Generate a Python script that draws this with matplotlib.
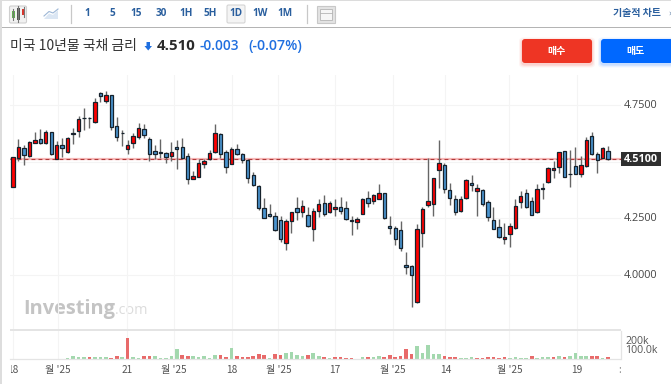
import matplotlib
matplotlib.use("Agg")
import matplotlib.pyplot as plt
from matplotlib.patches import FancyBboxPatch, Rectangle, Polygon
from matplotlib.transforms import Bbox, TransformedBbox

plt.rcParams['font.family'] = ['Noto Sans CJK KR', 'DejaVu Sans']

W, H = 671, 384

# direction of each session: R = up (red), B = down (blue)
direction = ["R","R","B","R","R","B","R","B","R","B","R","R","R","B","B","R","B","R","B","B",
             "B","R","R","R","B","B","B","R","B","R","B","B","B","R","R","R","R","R","B","B",
             "R","B","B","B","B","B","B","B","B","B","R","R","B","R","B","R","R","B","R","R",
             "B","B","B","R","R","B","R","R","B","B","B","B","B","B","R","R","R","R","R","B",
             "B","B","R","R","B","R","B","B","B","B","R","R","R","R","B","B","R","B","R","R",
             "R","B","B","B","R","R","B","B","R","B"]

highs = [4.519,4.599,4.574,4.592,4.632,4.643,4.640,4.632,4.591,4.603,
         4.610,4.647,4.701,4.735,4.696,4.780,4.809,4.812,4.794,4.698,
         4.640,4.596,4.625,4.669,4.665,4.607,4.574,4.599,4.544,4.585,
         4.596,4.603,4.540,4.460,4.512,4.511,4.551,4.665,4.625,4.551,
         4.563,4.578,4.537,4.512,4.456,4.396,4.341,4.313,4.279,4.260,
         4.246,4.279,4.345,4.331,4.299,4.294,4.334,4.353,4.328,4.334,
         4.343,4.328,4.260,4.257,4.340,4.369,4.357,4.400,4.363,4.260,
         4.216,4.238,4.103,4.044,4.225,4.299,4.515,4.427,4.596,4.493,
         4.407,4.352,4.349,4.422,4.441,4.401,4.378,4.331,4.299,4.248,
         4.228,4.231,4.334,4.372,4.379,4.345,4.400,4.404,4.478,4.503,
         4.544,4.548,4.551,4.566,4.525,4.610,4.632,4.544,4.566,4.569]
body_tops = [4.519,4.566,4.559,4.588,4.594,4.600,4.632,4.632,4.574,4.574,
             4.606,4.625,4.687,4.694,4.693,4.765,4.803,4.794,4.793,4.656,
             4.628,4.574,4.612,4.647,4.643,4.601,4.546,4.541,4.537,4.541,
             4.566,4.566,4.526,4.437,4.495,4.502,4.538,4.628,4.621,4.543,
             4.555,4.555,4.535,4.509,4.441,4.394,4.294,4.270,4.262,4.244,
             4.240,4.277,4.294,4.304,4.263,4.281,4.312,4.316,4.316,4.299,
             4.299,4.294,4.241,4.247,4.337,4.338,4.352,4.360,4.360,4.216,
             4.209,4.197,4.043,4.041,4.202,4.290,4.325,4.427,4.495,4.484,
             4.375,4.337,4.334,4.418,4.407,4.383,4.375,4.321,4.244,4.212,
             4.166,4.215,4.304,4.347,4.363,4.328,4.378,4.382,4.471,4.471,
             4.541,4.546,4.446,4.480,4.484,4.597,4.613,4.534,4.562,4.546]
body_bottoms = [4.390,4.515,4.529,4.525,4.584,4.584,4.584,4.534,4.512,4.560,
                4.544,4.621,4.635,4.693,4.691,4.674,4.791,4.768,4.654,4.610,
                4.626,4.557,4.584,4.610,4.616,4.535,4.534,4.538,4.519,4.526,
                4.555,4.515,4.422,4.425,4.432,4.491,4.513,4.541,4.535,4.475,
                4.491,4.534,4.506,4.429,4.398,4.297,4.253,4.262,4.200,4.157,
                4.142,4.240,4.278,4.278,4.215,4.202,4.281,4.269,4.279,4.290,
                4.281,4.246,4.240,4.235,4.270,4.316,4.328,4.337,4.250,4.207,
                4.157,4.120,4.034,3.999,3.881,4.184,4.308,4.313,4.463,4.381,
                4.340,4.277,4.284,4.338,4.397,4.371,4.312,4.255,4.204,4.169,
                4.157,4.181,4.209,4.321,4.299,4.266,4.278,4.381,4.409,4.463,
                4.475,4.434,4.444,4.447,4.447,4.480,4.533,4.507,4.518,4.512]
lows = [4.390,4.504,4.485,4.519,4.581,4.577,4.578,4.529,4.511,4.519,
        4.537,4.578,4.610,4.640,4.647,4.672,4.765,4.758,4.640,4.591,
        4.570,4.534,4.559,4.599,4.603,4.503,4.512,4.516,4.493,4.503,
        4.466,4.511,4.401,4.422,4.431,4.471,4.507,4.537,4.517,4.451,
        4.490,4.529,4.493,4.407,4.393,4.287,4.250,4.257,4.195,4.147,
        4.110,4.187,4.243,4.257,4.210,4.151,4.255,4.260,4.275,4.260,
        4.269,4.243,4.176,4.202,4.268,4.299,4.313,4.334,4.248,4.181,
        4.132,4.107,4.004,3.857,3.875,4.125,4.299,4.260,4.382,4.363,
        4.307,4.265,4.279,4.334,4.372,4.260,4.304,4.238,4.202,4.165,
        4.137,4.125,4.204,4.294,4.294,4.263,4.275,4.334,4.405,4.427,
        4.450,4.431,4.390,4.444,4.431,4.475,4.529,4.451,4.515,4.507]

# volume in thousands, with the colour the volume bar is drawn in (0 = no bar)
volumes = [0,0,0,0,0,0,0,0,0,0,
           8,28,24,20,24,20,20,20,12,36,
           20,240,20,12,32,36,28,8,8,32,
           120,48,32,32,24,28,8,44,44,24,
           132,32,24,20,32,52,44,12,60,44,
           64,76,44,32,48,68,32,20,8,16,
           20,12,8,0,16,20,20,28,20,40,
           24,32,120,52,148,72,164,52,52,32,
           20,16,8,12,20,4,8,20,20,12,
           20,8,20,12,8,32,8,20,20,20,
           32,20,32,64,28,32,32,32,8,20]
volume_colors = list("GGGGGGGGGG"
                     "GGGGRGGGRR"
                     "GRGGRRGGGG"
                     "GRRGGGGGRR"
                     "GRRRRRRGRR"
                     "GGGGRGGRGR"
                     "RRRRGRGGRR"
                     "RRRRGGGGGR"
                     "RRGGGRRRRR"
                     "RGGGGRGGGR"
                     "GRGGGGRRGR")

price_ticks = [4.75, 4.25, 4.00]
price_tick_labels = ["4.7500", "4.2500", "4.0000"]
price_grid = [4.75, 4.50, 4.25, 4.00]
last_price = 4.51
last_price_label = "4.5100"
volume_ticks = [100, 200]
volume_tick_labels = ["100.0k", "200k"]
time_ticks = [0.0, 8.26, 20.9, 29.5, 40.1, 48.6, 59.0, 69.6, 79.2, 90.9, 103.3]
time_labels = ["18", "월 '25", "21", "월 '25", "18", "월 '25", "17", "월 '25", "14", "월 '25", "19"]

# pixel layout
FIRST_X, STEP = 13.0, 5.46
L, R = 10.0, 620.5
P_TOP, P_BOT = 75.0, 329.0
V_TOP, V_BOT = 331.0, 358.8
Y0, PX_PER_UNIT = 5.2133, 226.67

fig = plt.figure(figsize=(W / 100, H / 100), dpi=100, facecolor="white")

def rect_axes(l, t, r, b):
    return fig.add_axes([l / W, 1 - b / H, (r - l) / W, (b - t) / H])

# UI layer -----------------------------------------------------------------
ui = fig.add_axes([0, 0, 1, 1], zorder=0)
ui.set_xlim(0, W)
ui.set_ylim(H, 0)
ui.axis("off")

ui.add_patch(Rectangle((0, 0), W, 1.2, fc="#dcdcdc", ec="none"))
ui.add_patch(Rectangle((0, 26.6), W, 1.0, fc="#b4b4b4", ec="none"))
ui.add_patch(Rectangle((0, 0), 1.5, H, fc="#dddddd", ec="none"))
for dx in (70.5, 306.5):
    ui.plot([dx, dx], [5, 23], color="#c8c8c8", lw=0.9)

# candle icon
ui.add_patch(FancyBboxPatch((9.5, 6), 17, 17, boxstyle="round,pad=0,rounding_size=1.5",
                            fc="#f1f1f1", ec="#cfcfcf", lw=0.8))
for ix, col, t, b in ((13, "#5fb04f", 11, 18), (18, "#555555", 8, 20), (23.5, "#d9352b", 9, 15)):
    ui.plot([ix, ix], [t - 2, b + 2], color="#777777", lw=0.8)
    ui.add_patch(Rectangle((ix - 1.5, t), 3, b - t, fc=col, ec="none"))
# area icon
ui.add_patch(Polygon([(44, 19), (49, 13.5), (53, 15), (58, 10), (58, 19)], fc="#dbe6f3", ec="none"))
ui.plot([44, 49, 53, 58], [16, 11.5, 13, 9], color="#9db7d6", lw=0.8)
# layout icon
ui.add_patch(Rectangle((317, 6), 18, 17, fc="#e3e3e3", ec="#c8c8c8", lw=0.8))
ui.add_patch(Rectangle((320, 9), 12, 11, fc="#f6f6f6", ec="#b5b5b5", lw=0.6))
ui.plot([320, 332], [12.5, 12.5], color="#b5b5b5", lw=0.6)

# interval buttons
ui.add_patch(FancyBboxPatch((227, 5), 18, 18, boxstyle="round,pad=0,rounding_size=1.5",
                            fc="#f4f4f4", ec="#d4d4d4", lw=0.8))
for tx, s in zip((87.5, 112, 136.5, 161.5, 186, 210.5, 235.5, 260, 284.5),
                 ("1", "5", "15", "30", "1H", "5H", "1D", "1W", "1M")):
    ui.text(tx, 13.5, s, color="#2a5f9e", fontsize=7.2, fontweight="bold",
            family=["Open Sans", "DejaVu Sans"], ha="center", va="center")
ui.text(613, 13, "기술적 차트", color="#2a5f9e", fontsize=7.2, fontweight="bold", ha="left", va="center")
ui.text(668, 13.5, "»", color="#5f7fa5", fontsize=6.5, ha="left", va="center")

# headline
ui.text(10, 46, "미국 10년물 국채 금리", color="#333333", fontsize=10.0, ha="left", va="center")
ui.add_patch(Polygon([(146.5, 42), (150, 42), (150, 46), (152, 46), (148.2, 50.5), (144.5, 46), (146.5, 46)],
                     fc="#1f6fe0", ec="none"))
ui.text(157, 46, "4.510", color="#2a2a2a", fontsize=10.8, fontweight="bold",
        family=["Open Sans", "DejaVu Sans"], ha="left", va="center")
ui.text(200, 46, "-0.003", color="#1f6fe0", fontsize=9.8, fontweight="semibold",
        family=["Open Sans", "DejaVu Sans"], ha="left", va="center")
ui.text(248, 46, "(-0.07%)", color="#1f6fe0", fontsize=10.2, fontweight="semibold",
        family=["Open Sans", "DejaVu Sans"], ha="left", va="center")

# trade buttons with their soft shadows
for bx, bw, shade in ((522, 70, "#ee3524"), (601, 72, "#0068ff")):
    for grow, a in ((3, 0.05), (2, 0.07), (1, 0.10)):
        ui.add_patch(FancyBboxPatch((bx - grow, 39 - grow + 1.5), bw + 2 * grow, 24 + 2 * grow,
                                    boxstyle="round,pad=0,rounding_size=4",
                                    fc=shade, ec="none", alpha=a))
    ui.add_patch(FancyBboxPatch((bx, 39), bw, 24, boxstyle="round,pad=0,rounding_size=3",
                                fc=shade, ec="none"))
ui.text(556.5, 51, "매수", color="white", fontsize=7.2, fontweight="bold", ha="center", va="center")
ui.text(635, 51, "매도", color="white", fontsize=7.2, fontweight="bold", ha="center", va="center")

# pane separators and watermark
ui.add_patch(Rectangle((10, 329), 611, 2, fc="#e4e4e4", ec="none"))
ui.text(23, 309, "Investing", color="#c4c4c4", fontsize=14.4, fontweight="bold",
        family=["Open Sans", "DejaVu Sans"], ha="left", va="center")
ui.text(115, 311, ".com", color="#dcdcdc", fontsize=10.4,
        family=["Open Sans", "DejaVu Sans"], ha="left", va="center")

# time labels
clip_box = TransformedBbox(Bbox([[10.5, 360], [W, H]]), ui.transData)
for tick, s in zip(time_ticks, time_labels):
    x = FIRST_X + tick * STEP
    t = ui.text(x, 370, s, color="#555555", fontsize=7.3, ha="center", va="center")
    t.set_clip_box(clip_box)
    t.set_clip_on(True)
ui.text(620, 370, ":", color="#888888", fontsize=7, ha="center", va="center")

# price pane ---------------------------------------------------------------
xs = list(range(len(highs)))
xlim = ((L - FIRST_X) / STEP, (R - FIRST_X) / STEP)

ax = rect_axes(L, P_TOP, R, P_BOT)
ax.set_zorder(1)
ax.patch.set_alpha(0)
ax.set_xlim(*xlim)
ax.set_ylim(Y0 - P_BOT / PX_PER_UNIT, Y0 - P_TOP / PX_PER_UNIT)
for s in ax.spines.values():
    s.set_visible(False)
ax.tick_params(left=False, bottom=False, labelleft=False, labelbottom=False)
for g in price_grid:
    ax.axhline(g, color="#f4f4f4", lw=0.8, zorder=0)
for t in time_ticks:
    ax.axvline(t, color="#f4f4f4", lw=0.8, zorder=0)

ax.axhline(last_price, color="#f6b8b8", lw=1.6, zorder=1)
ax.axhline(last_price, color="#b03a3a", lw=0.8, dashes=(3.5, 2.8), zorder=1.5)

ax.vlines(xs, lows, highs, color="#666666", lw=1.0, zorder=2)
colors = ["#ff0000" if d == "R" else "#4a94cf" for d in direction]
ax.bar(xs, [t - b for t, b in zip(body_tops, body_bottoms)], bottom=body_bottoms, width=0.62,
       color=colors, edgecolor="#16222c", linewidth=0.9, zorder=3)

# right scale labels drawn beyond the pane
for v, s in zip(price_ticks, price_tick_labels):
    ui.text(624, Y0 * PX_PER_UNIT - v * PX_PER_UNIT, s, color="#444444", fontsize=7.8,
            family=["Open Sans", "DejaVu Sans"], ha="left", va="center")
ly = Y0 * PX_PER_UNIT - last_price * PX_PER_UNIT
ui.add_patch(Rectangle((620.5, ly - 7), 40, 14, fc="#2f2f2f", ec="none"))
ui.text(623.5, ly + 0.3, last_price_label, color="white", fontsize=7.8, fontweight="bold",
        family=["Open Sans", "DejaVu Sans"], ha="left", va="center")

# volume pane --------------------------------------------------------------
KPX = 8.5 / 100
vax = rect_axes(L, V_TOP, R, V_BOT)
vax.set_zorder(1)
vax.patch.set_alpha(0)
vax.set_xlim(*xlim)
vax.set_ylim(0, (V_BOT - V_TOP) / KPX)
for name, s in vax.spines.items():
    s.set_visible(name in ("bottom", "right"))
    s.set_color("#e4e4e4")
    s.set_linewidth(0.9)
vax.tick_params(left=False, bottom=False, labelleft=False, labelbottom=False)
for t in time_ticks:
    vax.axvline(t, color="#f4f4f4", lw=0.8, zorder=0)
vcolors = ["#e86a6a" if c == "R" else "#a3d8ae" for c in volume_colors]
vax.bar(xs, volumes, width=0.66, color=vcolors, linewidth=0, zorder=2)
for v, s in zip(volume_ticks, volume_tick_labels):
    ui.text(625, V_BOT - v * KPX, s, color="#555555", fontsize=7.6,
            family=["Open Sans", "DejaVu Sans"], ha="left", va="center")

fig.savefig("out.png", dpi=100, facecolor="white")
